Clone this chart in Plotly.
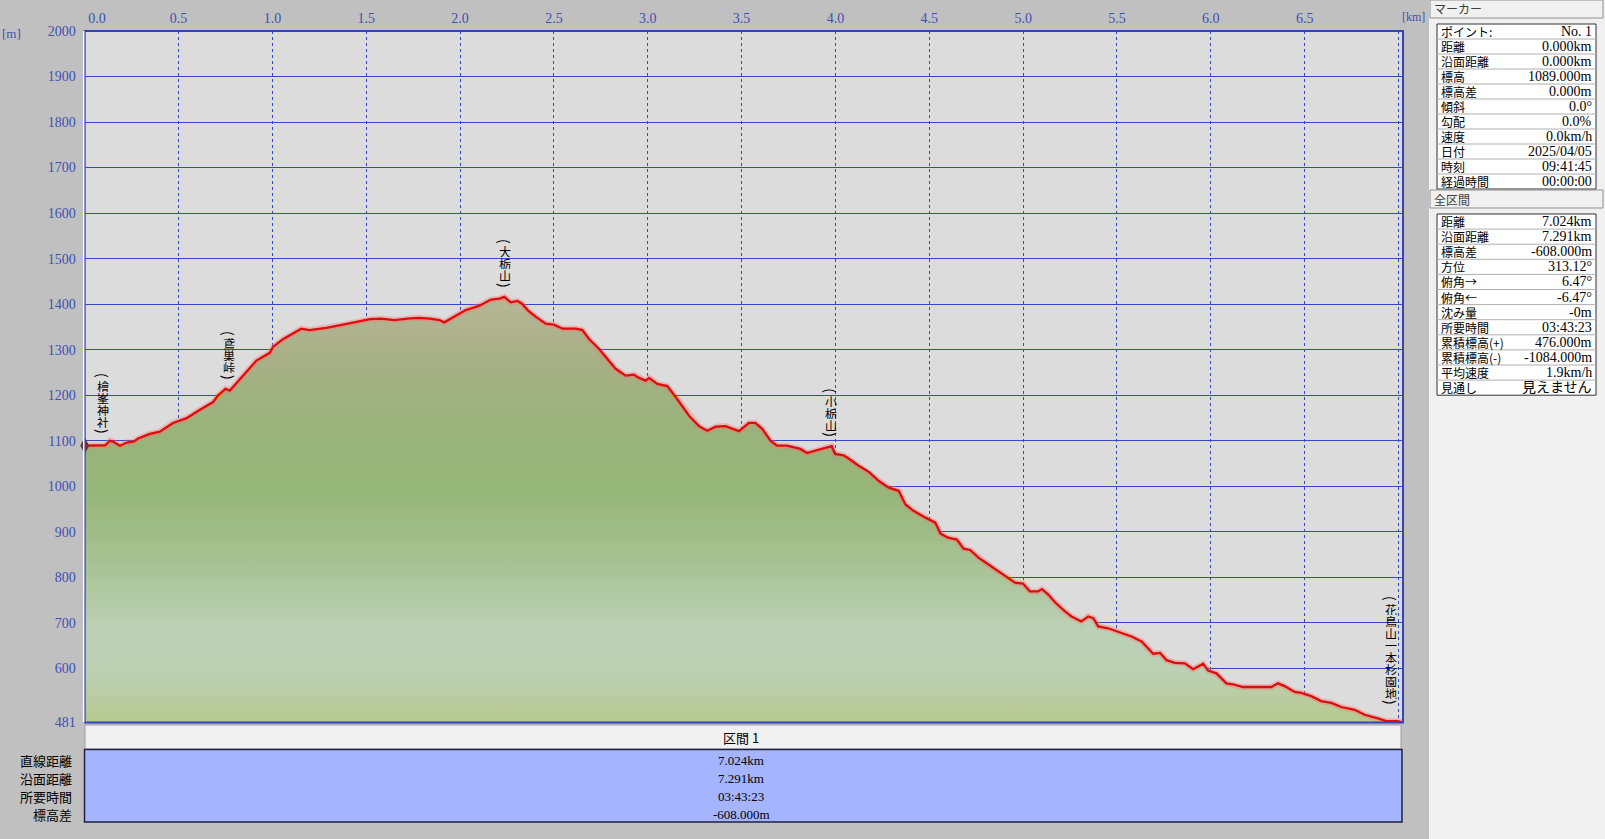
import plotly.graph_objects as go

# 標高プロファイル (距離 km, 標高 m)
dist_km = [0.0, 0.03, 0.108, 0.135, 0.15, 0.188, 0.223, 0.26, 0.285, 0.347, 0.40, 0.47, 0.54, 0.614,
           0.684, 0.71, 0.75, 0.773, 0.81, 0.87, 0.915, 0.986, 1.003, 1.056, 1.119, 1.154, 1.198,
           1.287, 1.376, 1.464, 1.52, 1.58, 1.65, 1.72, 1.78, 1.84, 1.89, 1.916, 1.977, 2.03, 2.10,
           2.165, 2.21, 2.236, 2.27, 2.306, 2.33, 2.36, 2.404, 2.457, 2.50, 2.546, 2.617, 2.652,
           2.686, 2.74, 2.784, 2.829, 2.882, 2.926, 2.954, 2.989, 3.007, 3.051, 3.104, 3.149, 3.22,
           3.273, 3.317, 3.362, 3.415, 3.486, 3.539, 3.573, 3.61, 3.654, 3.689, 3.742, 3.813, 3.849,
           3.893, 3.947, 3.98, 3.998, 4.044, 4.07, 4.12, 4.18, 4.23, 4.284, 4.337, 4.373, 4.416,
           4.48, 4.532, 4.56, 4.60, 4.647, 4.683, 4.718, 4.762, 4.798, 4.85, 4.904, 4.957, 5.00,
           5.036, 5.08, 5.10, 5.134, 5.17, 5.223, 5.258, 5.31, 5.347, 5.374, 5.40, 5.453, 5.49,
           5.543, 5.578, 5.631, 5.658, 5.693, 5.729, 5.764, 5.808, 5.862, 5.906, 5.959, 5.986,
           6.03, 6.083, 6.118, 6.171, 6.322, 6.358, 6.393, 6.447, 6.482, 6.535, 6.588, 6.642,
           6.695, 6.766, 6.82, 6.89, 6.934, 6.996, 7.024]
elev_m = [1089, 1089, 1090, 1100, 1098, 1089, 1096, 1098, 1105, 1115, 1120, 1139, 1149, 1168,
          1185, 1199, 1214, 1210, 1227, 1254, 1276, 1293, 1306, 1323, 1339, 1346, 1343,
          1348, 1355, 1362, 1367, 1368, 1365, 1368, 1370, 1368, 1365, 1360, 1374, 1387, 1396,
          1410, 1412, 1416, 1404, 1407, 1401, 1387, 1372, 1357, 1355, 1346, 1346, 1343,
          1324, 1302, 1280, 1258, 1243, 1245, 1238, 1232, 1238, 1225, 1220, 1196, 1155,
          1132, 1122, 1131, 1132, 1121, 1139, 1139, 1126, 1100, 1089, 1089, 1082, 1073,
          1078, 1085, 1088, 1071, 1068, 1061, 1046, 1031, 1012, 997, 990, 960, 946,
          931, 920, 896, 887, 883, 863, 860, 843, 833, 818, 802, 788, 786,
          769, 769, 774, 762, 745, 725, 714, 703, 714, 710, 692, 688, 683,
          676, 670, 659, 648, 632, 634, 618, 612, 611, 598, 610, 595,
          589, 567, 565, 559, 559, 567, 561, 548, 546, 539, 528, 524,
          515, 509, 498, 490, 484, 484, 481]

# 地点名 (距離 km, ラベル上端の標高 m)
wp_names = ["檜峯神社", "鳶巣峠", "大栃山", "小栃山", "花鳥山一本杉園地"]
wp_km = [0.10, 0.77, 2.24, 3.975, 6.96]
wp_top = [1252, 1345, 1547, 1218, 761]

x_ticks = [0.0, 0.5, 1.0, 1.5, 2.0, 2.5, 3.0, 3.5, 4.0, 4.5, 5.0, 5.5, 6.0, 6.5, 7.0]
x_ticktext = ["\u00a0" * 7 + "0.0", "0.5", "1.0", "1.5", "2.0", "2.5", "3.0", "3.5", "4.0",
              "4.5", "5.0", "5.5", "6.0", "6.5", ""]
y_ticks = [481, 600, 700, 800, 900, 1000, 1100, 1200, 1300, 1400, 1500, 1600, 1700, 1800, 1900, 2000]

marker_labels = ["ポイント:", "距離", "沿面距離", "標高", "標高差", "傾斜", "勾配", "速度",
                 "日付", "時刻", "経過時間"]
marker_values = ["No. 1", "0.000km", "0.000km", "1089.000m", "0.000m", "0.0°", "0.0%",
                 "0.0km/h", "2025/04/05", "09:41:45", "00:00:00"]
total_labels = ["距離", "沿面距離", "標高差", "方位", "俯角→", "俯角←", "沈み量", "所要時間",
                "累積標高(+)", "累積標高(-)", "平均速度", "見通し"]
total_values = ["7.024km", "7.291km", "-608.000m", "313.12°", "6.47°", "-6.47°", "-0m",
                "03:43:23", "476.000m", "-1084.000m", "1.9km/h", "見えません"]
section_labels = ["直線距離", "沿面距離", "所要時間", "標高差"]
section_values = ["7.024km", "7.291km", "03:43:23", "-608.000m"]

W, H = 1605, 839
X0, X1, Y0, Y1 = 84.7, 1403, 31, 722.5
BLUE = "#3F4FB5"
NUM_FONT = "Liberation Serif, Noto Sans CJK JP"
JP_FONT = "Noto Sans CJK JP"


def px(x):
    return x / W


def py(y):
    return 1 - y / H


def label(x, y, text, anchor="center", size=13, family=JP_FONT, color="black"):
    # 画面ピクセル位置に置く文字
    return dict(x=px(x), y=py(y), xref="paper", yref="paper", text=text,
                xanchor=anchor, yanchor="middle", showarrow=False,
                font=dict(family=family, size=size, color=color))


fig = go.Figure()

# 地形の塗り (グラデーション)
fig.add_trace(go.Scatter(
    x=dist_km, y=elev_m, mode="lines",
    line=dict(color="rgba(0,0,0,0)", width=0),
    fill="tozeroy",
    fillgradient=dict(
        type="vertical", start=481, stop=1416,
        colorscale=[[0.0, "rgb(182,200,142)"], [0.12, "rgb(188,208,180)"],
                    [0.22, "rgb(188,208,182)"], [0.38, "rgb(166,194,146)"],
                    [0.55, "rgb(150,181,120)"], [0.70, "rgb(154,179,124)"],
                    [0.85, "rgb(168,176,134)"], [1.0, "rgb(182,182,150)"]],
    ),
    hoverinfo="skip", showlegend=False,
))
# 赤線のにじみ
fig.add_trace(go.Scatter(
    x=dist_km, y=elev_m, mode="lines",
    line=dict(color="rgba(255,110,110,0.35)", width=6),
    hoverinfo="skip", showlegend=False,
))
fig.add_trace(go.Scatter(
    x=dist_km, y=elev_m, mode="lines",
    line=dict(color="#E00C0C", width=2.3),
    showlegend=False,
))
# 現在地マーカー
fig.add_trace(go.Scatter(
    x=dist_km[:1], y=elev_m[:1], mode="markers",
    marker=dict(symbol="diamond-tall", size=11, color="#8A2A20",
                line=dict(color="#4A3A30", width=1)),
    showlegend=False, cliponaxis=False,
))

shapes = []
annotations = []

# グラフ枠
shapes.append(dict(type="rect", xref="paper", yref="paper",
                   x0=px(X0), x1=px(X1), y0=py(Y1), y1=py(Y0),
                   line=dict(color="#3344BB", width=2)))
shapes.append(dict(type="line", xref="paper", yref="paper",
                   x0=px(X0 - 1), x1=px(X0 - 1), y0=py(Y1), y1=py(Y0),
                   line=dict(color="white", width=1.5)))

# 縦書きの地点名 (1文字ずつ縦に積む)
for name, xk, yt in zip(wp_names, wp_km, wp_top):
    chars = ["("] + list(name) + [")"]
    off = 0
    for ch in chars:
        paren = ch in "()"
        h = 8 if paren else 12
        ann = dict(
            x=xk, y=yt, xref="x", yref="y", text=ch, showarrow=False,
            yshift=-(off + h / 2), yanchor="middle", xanchor="center",
            borderpad=0,
            font=dict(family=JP_FONT, size=14 if paren else 12, color="black"),
        )
        if paren:
            ann["textangle"] = 90
        else:
            ann["height"] = h
        annotations.append(ann)
        off += h

annotations.append(label(11, 34, "[m]", family=NUM_FONT, color=BLUE))
annotations.append(label(1427, 17, "[km]", anchor="right", size=12, family=NUM_FONT, color=BLUE))

# 下部の区間表
shapes.append(dict(type="rect", xref="paper", yref="paper",
                   x0=px(85), x1=px(1401), y0=py(749), y1=py(725),
                   fillcolor="#F0F0F0", line=dict(color="#A0A0A0", width=1)))
shapes.append(dict(type="rect", xref="paper", yref="paper",
                   x0=px(84.5), x1=px(1402), y0=py(822), y1=py(749.5),
                   fillcolor="#A4B4FF", line=dict(color="#202040", width=1.5)))
annotations.append(label(741, 737, "区間 1"))
for i, (lab, val) in enumerate(zip(section_labels, section_values)):
    yy = 760 + i * 18
    annotations.append(label(74, yy, lab, anchor="right"))
    annotations.append(label(741, yy, val, family=NUM_FONT))

# 右パネル
shapes.append(dict(type="rect", xref="paper", yref="paper", x0=px(1429), x1=1, y0=0, y1=1,
                   fillcolor="#F0F0F0", line=dict(width=0), layer="below"))


def panel_table(title, y_head, y_top, row_h, labels, values):
    shapes.append(dict(type="rect", xref="paper", yref="paper",
                       x0=px(1430), x1=px(1603), y0=py(y_head + 18), y1=py(y_head),
                       fillcolor="#F0F0F0", line=dict(color="#909090", width=1)))
    annotations.append(label(1432, y_head + 9, title, anchor="left", size=12, color="#404040"))
    y_bot = y_top + row_h * len(labels)
    shapes.append(dict(type="rect", xref="paper", yref="paper",
                       x0=px(1437), x1=px(1596), y0=py(y_bot), y1=py(y_top),
                       fillcolor="white", line=dict(color="#303030", width=1)))
    for i, (lab, val) in enumerate(zip(labels, values)):
        yc = y_top + row_h * (i + 0.5)
        if i > 0:
            shapes.append(dict(type="line", xref="paper", yref="paper",
                               x0=px(1437), x1=px(1596),
                               y0=py(y_top + row_h * i), y1=py(y_top + row_h * i),
                               line=dict(color="#B0B0B0", width=1)))
        annotations.append(label(1439, yc, lab, anchor="left", size=12))
        annotations.append(label(1594, yc, val, anchor="right", size=14, family=NUM_FONT))


panel_table("マーカー", 0, 24, 15.0, marker_labels, marker_values)
panel_table("全区間", 190, 214, 15.1, total_labels, total_values)

fig.update_layout(
    width=W, height=H,
    margin=dict(l=0, r=0, t=0, b=0, autoexpand=False),
    paper_bgcolor="#C0C0C0",
    plot_bgcolor="#DCDCDC",
    shapes=shapes,
    annotations=annotations,
    xaxis=dict(
        domain=[px(X0), px(X1)], range=[0, 7.024], side="top", automargin=False,
        tickvals=x_ticks, ticktext=x_ticktext,
        showgrid=True, gridcolor="#3848C8", griddash="dot", gridwidth=1,
        zeroline=False, showline=False, ticks="",
        tickfont=dict(family=NUM_FONT, size=14, color=BLUE),
        ticklabelstandoff=4,
    ),
    yaxis=dict(
        domain=[py(Y1), py(Y0)], range=[481, 2000], automargin=False,
        tickvals=y_ticks, ticktext=[str(v) for v in y_ticks],
        showgrid=True, gridcolor="#3848C0", gridwidth=1.3,
        zeroline=False, showline=False, ticks="",
        tickfont=dict(family=NUM_FONT, size=14, color=BLUE),
        ticklabelstandoff=8,
    ),
    hovermode=False,
)

fig.write_html("out.html", config={"displayModeBar": False},
               post_script="document.body.style.margin='0px';document.body.style.overflow='hidden';")
